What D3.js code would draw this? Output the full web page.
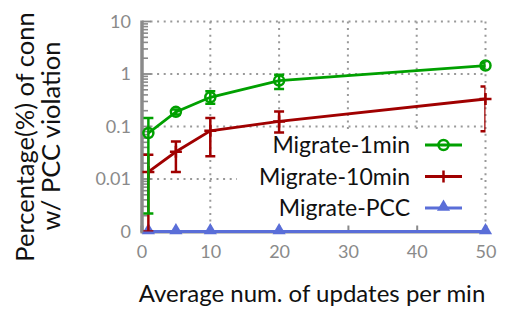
<!DOCTYPE html>
<html>
<head>
<meta charset="utf-8">
<script src="https://cdn.jsdelivr.net/npm/d3@7"></script>
<style>
  body { margin: 0; background: #fff; }
  text { font-family: Lato, "Open Sans", sans-serif; }
</style>
</head>
<body>
<script>
// 数据
var updates = [1, 5, 10, 20, 50];
var m1 = [0.075, 0.19, 0.36, 0.75, 1.45];
var m1Lo = [0.0022, 0.17, 0.27, 0.52, 1.3];
var m1Hi = [0.145, 0.21, 0.47, 0.97, 1.6];
var m10 = [0.0136, 0.033, 0.083, 0.125, 0.334];
var m10Lo = [0, 0.0136, 0.027, 0.077, 0.081];
var m10Hi = [0.029, 0.052, 0.145, 0.194, 0.58];
var pcc = [0, 0, 0, 0, 0];
var xTicks = [0, 10, 20, 30, 40, 50];
var yTicks = [0.001, 0.01, 0.1, 1, 10];
var yTickLabels = ['0', '0.01', '0.1', '1', '10'];
var seriesNames = ['Migrate-1min', 'Migrate-10min', 'Migrate-PCC'];

var width = 505, height = 309;
var pl = 141.5, pr = 485.5, pt = 21.5, pb = 231.5;
var gray = '#8a8a8a';
var colors = ['#00a000', '#a00000', '#5a6ed8'];

var x = d3.scaleLinear().domain([0, 50]).range([pl, pr]);
var y = d3.scaleLog().domain([0.001, 10]).range([pb, pt]).clamp(true);
// 0 画在 0.001 的位置
function yv(v) { return v <= 0 ? y(0.001) : y(v); }

var svg = d3.select('body').append('svg')
  .attr('width', width)
  .attr('height', height);

svg.append('defs').append('clipPath').attr('id', 'plot')
  .append('rect')
    .attr('x', pl).attr('y', pt)
    .attr('width', pr - pl).attr('height', pb - pt);

// 网格
var grid = svg.append('g').attr('class', 'grid')
  .attr('stroke', '#999').attr('stroke-width', 2)
  .attr('stroke-dasharray', '2,4.6');
grid.selectAll('line.h')
  .data(yTicks.slice(1))
  .enter().append('line')
    .attr('x1', pl + 9).attr('x2', pr)
    .attr('y1', function(d) { return y(d); })
    .attr('y2', function(d) { return y(d); });
grid.selectAll('line.v')
  .data(xTicks.slice(1))
  .enter().append('line')
    .attr('x1', function(d) { return x(d); })
    .attr('x2', function(d) { return x(d); })
    .attr('y1', pt).attr('y2', pb - 6);

// 图例背景
svg.append('rect')
  .attr('x', 237).attr('y', 131)
  .attr('width', 240).attr('height', 92)
  .attr('fill', '#fff');

// x 轴
var xAxis = svg.append('g')
  .attr('transform', 'translate(0,' + pb + ')')
  .call(d3.axisBottom(x).tickValues(xTicks).tickSize(-6).tickPadding(14).tickFormat(d3.format('d')));
xAxis.select('.domain').attr('stroke', gray).attr('stroke-width', 3);
xAxis.selectAll('.tick line').attr('stroke', gray).attr('stroke-width', 2);
xAxis.selectAll('.tick text')
  .attr('fill', gray)
  .attr('font-size', 18)
  .attr('font-family', 'Lato, sans-serif');

// y 轴 (对数, 含次刻度)
var minor = [];
[0.001, 0.01, 0.1, 1].forEach(function(base) {
  for (var k = 2; k <= 9; k++) minor.push(base * k);
});
var yAxis = svg.append('g')
  .attr('transform', 'translate(' + (pl + 0.5) + ',0)');
yAxis.append('line')
  .attr('x1', 0).attr('x2', 0)
  .attr('y1', pt - 1).attr('y2', pb + 1)
  .attr('stroke', gray).attr('stroke-width', 3.5);
yAxis.selectAll('line.minor')
  .data(minor)
  .enter().append('line')
    .attr('class', 'minor')
    .attr('x1', 0).attr('x2', 6)
    .attr('y1', function(d) { return y(d); })
    .attr('y2', function(d) { return y(d); })
    .attr('stroke', gray).attr('stroke-width', 1.6);
yAxis.selectAll('line.major')
  .data(yTicks)
  .enter().append('line')
    .attr('class', 'major')
    .attr('x1', 0).attr('x2', 9)
    .attr('y1', function(d) { return y(d); })
    .attr('y2', function(d) { return y(d); })
    .attr('stroke', gray).attr('stroke-width', 1.8);
yAxis.selectAll('text')
  .data(yTicks)
  .enter().append('text')
    .attr('x', -11)
    .attr('y', function(d) { return y(d); })
    .attr('dy', '0.36em')
    .attr('text-anchor', 'end')
    .attr('font-size', 18)
    .attr('fill', gray)
    .text(function(d, i) { return yTickLabels[i]; });

// 数据
var series = [
  { name: seriesNames[0], v: m1, lo: m1Lo, hi: m1Hi, color: colors[0], mark: 'circle' },
  { name: seriesNames[1], v: m10, lo: m10Lo, hi: m10Hi, color: colors[1], mark: 'plus' },
  { name: seriesNames[2], v: pcc, lo: null, hi: null, color: colors[2], mark: 'tri' }
];

var line = d3.line()
  .x(function(d) { return x(d.x); })
  .y(function(d) { return yv(d.v); });

function drawMark(g, s, cx, cy) {
  if (s.mark == 'circle') {
    g.append('circle')
      .attr('cx', cx).attr('cy', cy).attr('r', 5)
      .attr('fill', 'none').attr('stroke', s.color).attr('stroke-width', 2.5);
  } else if (s.mark == 'plus') {
    g.append('path')
      .attr('d', 'M' + (cx - 6) + ',' + cy + 'H' + (cx + 6) + 'M' + cx + ',' + (cy - 6) + 'V' + (cy + 6))
      .attr('stroke', s.color).attr('stroke-width', 2.5);
  } else {
    g.append('path')
      .attr('d', d3.symbol().type(d3.symbolTriangle).size(75)())
      .attr('transform', 'translate(' + cx + ',' + (cy - 1) + ')')
      .attr('fill', s.color);
  }
}

series.slice().reverse().forEach(function(s) {
  var pts = updates.map(function(u, i) {
    return { x: u, v: s.v[i], lo: s.lo ? s.lo[i] : null, hi: s.hi ? s.hi[i] : null };
  });
  var g = svg.append('g').attr('class', 'series');
  if (s.lo) {
    var eb = g.append('g').attr('clip-path', 'url(#plot)')
      .attr('stroke', s.color).attr('stroke-width', 2.5).attr('fill', 'none');
    pts.forEach(function(p) {
      var cx = x(p.x), y1 = yv(p.lo), y2 = yv(p.hi);
      eb.append('path')
        .attr('d', 'M' + cx + ',' + y1 + 'V' + y2 +
                   'M' + (cx - 5) + ',' + y1 + 'H' + (cx + 5) +
                   'M' + (cx - 5) + ',' + y2 + 'H' + (cx + 5));
    });
  }
  g.append('path')
    .datum(pts)
    .attr('d', line)
    .attr('fill', 'none')
    .attr('stroke', s.color)
    .attr('stroke-width', 2.8);
  pts.forEach(function(p) { drawMark(g, s, x(p.x), yv(p.v)); });
});

// 图例
var legend = svg.append('g').attr('class', 'legend');
series.forEach(function(s, i) {
  var ly = 145 + i * 31.5;
  legend.append('text')
    .attr('x', 410).attr('y', ly)
    .attr('dy', '0.35em')
    .attr('text-anchor', 'end')
    .attr('font-size', 23)
    .attr('fill', '#111')
    .text(s.name);
  legend.append('line')
    .attr('x1', 425).attr('x2', 462)
    .attr('y1', ly).attr('y2', ly)
    .attr('stroke', s.color).attr('stroke-width', 2.8);
  drawMark(legend, s, 443.5, ly);
});

// 轴标题
svg.append('text')
  .attr('transform', 'translate(25,137) rotate(-90)')
  .attr('dy', '0.35em')
  .attr('text-anchor', 'middle')
  .attr('font-size', 25.5)
  .attr('fill', '#111')
  .text('Percentage(%) of conn');
svg.append('text')
  .attr('transform', 'translate(51,136) rotate(-90)')
  .attr('dy', '0.35em')
  .attr('text-anchor', 'middle')
  .attr('font-size', 25.5)
  .attr('fill', '#111')
  .text('w/ PCC violation');
svg.append('text')
  .attr('x', 312).attr('y', 302)
  .attr('text-anchor', 'middle')
  .attr('font-size', 24)
  .attr('fill', '#111')
  .text('Average num. of updates per min');
</script>
</body>
</html>
